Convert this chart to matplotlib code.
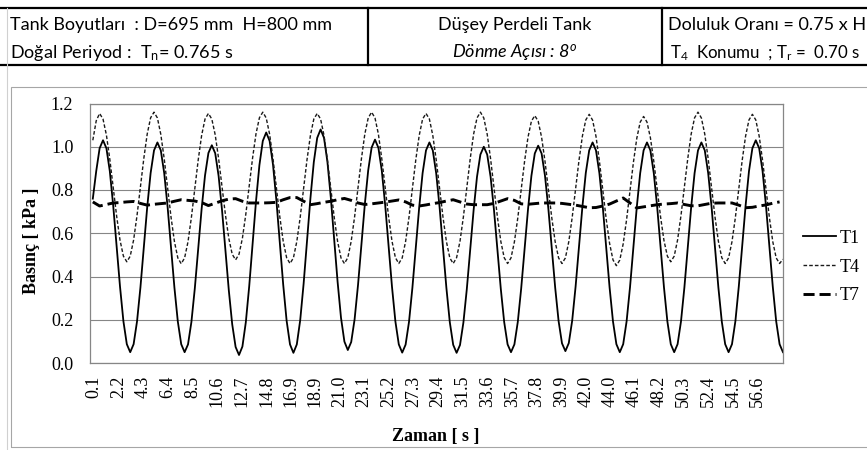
import numpy as np
import matplotlib.pyplot as plt
from matplotlib.lines import Line2D
from matplotlib.patches import Rectangle

plt.rcParams['mathtext.fontset'] = 'custom'
plt.rcParams['mathtext.rm'] = 'Lato'
plt.rcParams['mathtext.it'] = 'Lato:italic'

W, H = 867, 450
baslik_font = 'Lato'
grafik_font = 'Liberation Serif'

# örnekleme: 0.2894 s adımla 204 nokta
zaman_adim = 0.2894
zaman = np.arange(204) * zaman_adim

t1 = [0.760, 0.887, 0.993,
      1.030, 0.993, 0.887, 0.727, 0.540, 0.353, 0.193, 0.087, 0.050, 0.087, 0.192, 0.349, 0.535, 0.721, 0.878, 0.983,
      1.020, 0.983, 0.878, 0.721, 0.535, 0.349, 0.192, 0.087, 0.050, 0.086, 0.190, 0.345, 0.529, 0.712, 0.867, 0.971,
      1.007, 0.970, 0.865, 0.708, 0.522, 0.336, 0.179, 0.074, 0.037, 0.076, 0.188, 0.355, 0.552, 0.748, 0.915, 1.027,
      1.066, 1.027, 0.917, 0.751, 0.557, 0.362, 0.196, 0.086, 0.047, 0.086, 0.198, 0.366, 0.564, 0.761, 0.929, 1.041,
      1.080, 1.041, 0.931, 0.765, 0.570, 0.375, 0.209, 0.099, 0.060, 0.097, 0.202, 0.360, 0.547, 0.733, 0.891, 0.996,
      1.033, 0.995, 0.889, 0.729, 0.541, 0.352, 0.192, 0.086, 0.048, 0.085, 0.190, 0.348, 0.534, 0.720, 0.878, 0.983,
      1.020, 0.983, 0.877, 0.720, 0.534, 0.347, 0.189, 0.084, 0.047, 0.083, 0.187, 0.341, 0.524, 0.706, 0.861, 0.964,
      1.000, 0.964, 0.861, 0.707, 0.525, 0.343, 0.189, 0.086, 0.050, 0.086, 0.190, 0.345, 0.528, 0.710, 0.865, 0.969,
      1.005, 0.969, 0.866, 0.712, 0.530, 0.348, 0.194, 0.091, 0.055, 0.092, 0.196, 0.353, 0.538, 0.722, 0.879, 0.983,
      1.020, 0.983, 0.878, 0.721, 0.535, 0.349, 0.192, 0.087, 0.050, 0.087, 0.192, 0.349, 0.535, 0.721, 0.878, 0.983,
      1.020, 0.983, 0.878, 0.721, 0.535, 0.349, 0.192, 0.087, 0.050, 0.087, 0.192, 0.349, 0.535, 0.721, 0.878, 0.983,
      1.020, 0.983, 0.878, 0.721, 0.535, 0.349, 0.192, 0.087, 0.050, 0.087, 0.193, 0.353, 0.540, 0.727, 0.887, 0.993,
      1.030, 0.993, 0.887, 0.727, 0.540, 0.353, 0.193, 0.087, 0.050]

t4 = [1.030, 1.120,
      1.154, 1.128, 1.054, 0.942, 0.811, 0.680, 0.568, 0.494, 0.468, 0.494, 0.569, 0.682, 0.814, 0.946, 1.059, 1.134,
      1.160, 1.133, 1.057, 0.944, 0.810, 0.675, 0.562, 0.486, 0.459, 0.486, 0.561, 0.674, 0.807, 0.939, 1.052, 1.128,
      1.154, 1.128, 1.055, 0.945, 0.816, 0.686, 0.576, 0.503, 0.477, 0.503, 0.577, 0.688, 0.819, 0.949, 1.060, 1.134,
      1.160, 1.133, 1.058, 0.944, 0.810, 0.676, 0.563, 0.487, 0.460, 0.486, 0.562, 0.674, 0.807, 0.940, 1.052, 1.128,
      1.154, 1.128, 1.052, 0.940, 0.807, 0.674, 0.562, 0.486, 0.460, 0.487, 0.563, 0.676, 0.810, 0.944, 1.058, 1.133,
      1.160, 1.133, 1.058, 0.944, 0.810, 0.676, 0.563, 0.487, 0.460, 0.486, 0.562, 0.674, 0.807, 0.940, 1.052, 1.128,
      1.154, 1.128, 1.052, 0.940, 0.807, 0.674, 0.562, 0.486, 0.460, 0.487, 0.563, 0.676, 0.810, 0.944, 1.058, 1.133,
      1.160, 1.133, 1.058, 0.944, 0.810, 0.676, 0.563, 0.487, 0.460, 0.486, 0.560, 0.671, 0.802, 0.933, 1.044, 1.118,
      1.144, 1.118, 1.044, 0.933, 0.802, 0.671, 0.560, 0.486, 0.460, 0.486, 0.561, 0.673, 0.805, 0.937, 1.049, 1.124,
      1.150, 1.123, 1.048, 0.934, 0.800, 0.666, 0.553, 0.477, 0.450, 0.476, 0.551, 0.663, 0.795, 0.927, 1.039, 1.114,
      1.140, 1.114, 1.042, 0.933, 0.804, 0.675, 0.566, 0.494, 0.468, 0.494, 0.569, 0.682, 0.814, 0.946, 1.059, 1.134,
      1.160, 1.133, 1.058, 0.944, 0.810, 0.676, 0.563, 0.487, 0.460, 0.486, 0.561, 0.673, 0.805, 0.937, 1.049, 1.124,
      1.150, 1.124, 1.049, 0.937, 0.805, 0.673, 0.561, 0.486, 0.460, 0.480]

# T7 her iki örnekte bir okundu
t7 = [0.745, 0.726, 0.733, 0.740, 0.742, 0.745, 0.747, 0.738, 0.730, 0.734,
      0.737, 0.740, 0.748, 0.755, 0.752, 0.749, 0.742, 0.728, 0.739, 0.750,
      0.758, 0.760, 0.748, 0.740, 0.740, 0.740, 0.741, 0.743, 0.755, 0.765,
      0.765, 0.748, 0.732, 0.737, 0.743, 0.748, 0.755, 0.761, 0.752, 0.740,
      0.733, 0.736, 0.740, 0.744, 0.749, 0.754, 0.745, 0.730, 0.726, 0.731,
      0.737, 0.742, 0.749, 0.755, 0.745, 0.735, 0.732, 0.732, 0.732, 0.738,
      0.749, 0.760, 0.752, 0.736, 0.734, 0.737, 0.740, 0.740, 0.740, 0.738,
      0.734, 0.730, 0.724, 0.718, 0.719, 0.726, 0.735, 0.749, 0.763, 0.740,
      0.717, 0.722, 0.727, 0.732, 0.735, 0.737, 0.740, 0.733, 0.727, 0.727,
      0.733, 0.739, 0.740, 0.740, 0.740, 0.730, 0.718, 0.720, 0.726, 0.731,
      0.739, 0.745]

x_etiketleri = ['0.1', '2.2', '4.3', '6.4', '8.5', '10.6', '12.7', '14.8', '16.9', '18.9',
                '21.0', '23.1', '25.2', '27.3', '29.4', '31.5', '33.6', '35.7', '37.8', '39.9',
                '42.0', '44.0', '46.1', '48.2', '50.3', '52.4', '54.5', '56.6']
y_degerleri = [0.0, 0.2, 0.4, 0.6, 0.8, 1.0, 1.2]


def fx(px):
    return px / W


def fy(py):
    return 1 - py / H


fig = plt.figure(figsize=(W / 100, H / 100), dpi=100)

# üst tablo
for y in (7.5, 65):
    fig.add_artist(Line2D([fx(0), fx(W)], [fy(y), fy(y)], color='black', lw=1.6))
for x in (368, 662):
    fig.add_artist(Line2D([fx(x), fx(x)], [fy(7.5), fy(65)], color='black', lw=1.6))
fig.add_artist(Line2D([fx(7), fx(7)], [fy(8), fy(450)], color='#d0d0d0', lw=0.8))
fig.add_artist(Rectangle((fx(11), fy(447)), fx(870) - fx(11), fy(87) - fy(447),
                         transform=fig.transFigure, fill=False, ec='#a6a6a6', lw=0.8))

bs = 13
fig.text(fx(10), fy(30), 'Tank Boyutları  : D=695 mm  H=800 mm', family=baslik_font, fontsize=bs, va='baseline')
fig.text(fx(10), fy(58), r'Doğal Periyod :  T$_\mathrm{n}$= 0.765 s', family=baslik_font, fontsize=bs, va='baseline')
fig.text(fx(515), fy(30), 'Düşey Perdeli Tank', family=baslik_font, fontsize=bs, va='baseline', ha='center')
fig.text(fx(515), fy(58), r'Dönme Açısı : 8$^\mathit{o}$', family=baslik_font, style='italic',
         fontsize=bs, va='baseline', ha='center')
fig.text(fx(668), fy(30), 'Doluluk Oranı = 0.75 x H', family=baslik_font, fontsize=bs, va='baseline')
fig.text(fx(670), fy(58), r'T$_\mathrm{4}$  Konumu  ; T$_\mathrm{r}$ =  0.70 s', family=baslik_font,
         fontsize=12.2, va='baseline')

# grafik alanı
ax = fig.add_axes([fx(90), fy(363), fx(783) - fx(90), fy(103.5) - fy(363)])
ax.plot(zaman, t1, color='black', lw=1.3, label='T1')
ax.plot(zaman, t4, color='#1a1a1a', lw=1.0, dashes=(2.6, 1.5), label='T4')
ax.plot(zaman[::2], t7, color='black', lw=2.1, dashes=(3.8, 1.7), label='T7')

ax.set_xlim(-0.24, 58.75)
ax.set_ylim(0, 1.2)
ax.set_xticks([float(s) for s in x_etiketleri])
ax.set_xticklabels(x_etiketleri, rotation=90, family=grafik_font, fontsize=13)
ax.set_yticks(y_degerleri)
ax.set_yticklabels([f'{v:.1f}' for v in y_degerleri], family=grafik_font, fontsize=13)
ax.tick_params(axis='x', length=0, pad=9)
ax.tick_params(axis='y', length=0, pad=12)
ax.yaxis.grid(True, color='#868686', lw=0.8)
ax.set_axisbelow(True)
for sp in ax.spines.values():
    sp.set_color('#868686')
    sp.set_linewidth(0.9)

fig.text(fx(31), fy(241), 'Basınç [ kPa ]', family=grafik_font, fontsize=13, weight='bold',
         rotation=90, ha='center', va='center')
fig.text(fx(436), fy(436), 'Zaman [ s ]', family=grafik_font, fontsize=13, weight='bold',
         ha='center', va='center')

fig.legend(loc='center left', bbox_to_anchor=(fx(803), fy(267)), frameon=False,
           prop={'family': grafik_font, 'size': 13}, handlelength=1.8, handletextpad=0.25,
           labelspacing=0.66, borderpad=0, borderaxespad=0)

fig.savefig('out.png', dpi=100)
